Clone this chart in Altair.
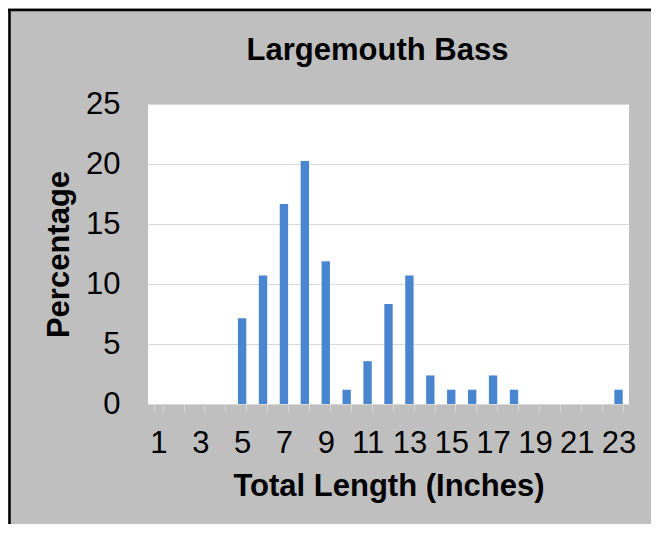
import altair as alt
import pandas as pd

lengths = [str(i) for i in range(1, 24)]
percentages = [0, 0, 0, 0, 7.14, 10.71, 16.67, 20.24, 11.90, 1.19, 3.57, 8.33,
               10.71, 2.38, 1.19, 1.19, 2.38, 1.19, 0, 0, 0, 0, 1.19]
y_ticks = [0, 5, 10, 15, 20, 25]

df = pd.DataFrame({"length": lengths, "pct": percentages})

FONT = "Liberation Sans"
GRID = "#d9d9d9"

bars = alt.Chart(df).mark_bar(color="#4a86d0").encode(
    x=alt.X("length:O", sort=lengths,
            scale=alt.Scale(paddingInner=0.6, paddingOuter=0.3),
            axis=alt.Axis(title="Total Length (Inches)",
                          labelExpr="toNumber(datum.value) % 2 == 1 ? datum.label : ''",
                          labelAngle=0, labelOverlap=False, tickBand="extent",
                          tickSize=8, tickColor=GRID, domainColor=GRID,
                          labelFontSize=31, labelFont=FONT, labelColor="black",
                          labelPadding=16, titleFontSize=31, titleFont=FONT,
                          titleFontWeight="bold", titleColor="black", titlePadding=13)),
    y=alt.Y("pct:Q", scale=alt.Scale(domain=[0, 25]),
            axis=alt.Axis(title="Percentage", values=y_ticks, grid=True, gridColor=GRID,
                          domain=False, ticks=False, labelPadding=28,
                          labelFontSize=31, labelFont=FONT, labelColor="black",
                          titleFontSize=31, titleFont=FONT, titleFontWeight="bold",
                          titleColor="black", titlePadding=10)),
)

border_data = alt.Data(values=[{"k": 1}])
top_border = alt.Chart(border_data).mark_rule(color="black", strokeWidth=2.5).encode(
    x=alt.value(-140), x2=alt.value(503), y=alt.value(-94))
left_border = alt.Chart(border_data).mark_rule(color="black", strokeWidth=2.5).encode(
    x=alt.value(-138.5), y=alt.value(-95), y2=alt.value(424))

chart = alt.layer(bars, top_border, left_border).properties(
    width=481, height=300,
    title=alt.TitleParams("Largemouth Bass", fontSize=31, font=FONT, fontWeight="bold",
                          color="black", anchor="middle", dx=-11, offset=0, dy=59),
    background="#bfbfbf",
    padding={"left": 140, "top": 96, "right": 22, "bottom": 120},
    autosize=alt.AutoSizeParams(type="none"),
).configure_view(fill="white", stroke=None)

chart.save("out.html", embed_options={"renderer": "svg", "actions": False})
